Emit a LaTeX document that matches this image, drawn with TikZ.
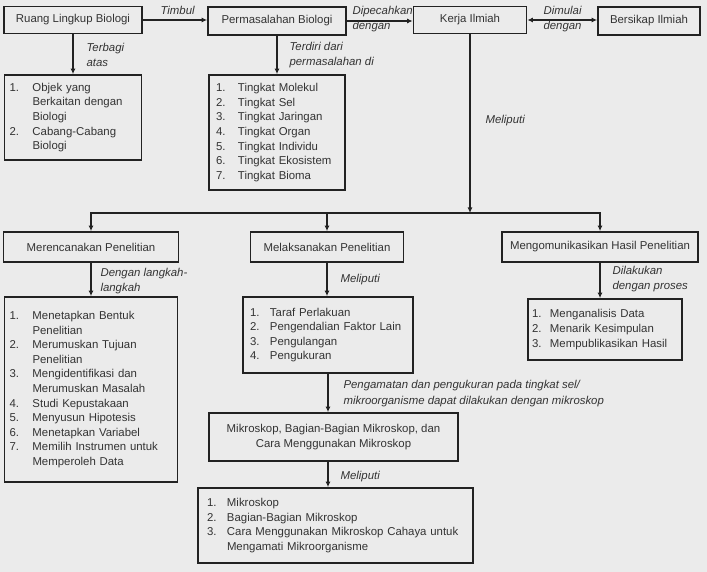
\documentclass[tikz,border=0pt]{standalone}
\usepackage{fontspec}
\setmainfont{Liberation Sans}
\usetikzlibrary{arrows.meta}
\definecolor{paper}{HTML}{EBEBEB}
\definecolor{ink}{HTML}{222222}
\definecolor{subink}{HTML}{333333}

\begin{document}
\begin{tikzpicture}[
    x=1pt, y=-1pt,
    >={Latex[length=5.5pt, width=5pt]},
    arr/.style={->, line width=1.8pt, ink},
    every node/.style={font=\fontsize{11.4}{14.6}\selectfont, text=subink},
    % Plain concept box
    box/.style={rectangle, draw=ink, line width=1.7pt, fill=paper,
                align=center, inner sep=2pt},
    % Numbered list box
    lst/.style={box, align=left, inner ysep=2pt},
    % Italic connector label
    lbl/.style={font=\fontsize{11.4}{15.5}\selectfont\itshape, align=left, anchor=west}
]

% ---------- Background ----------
\fill[paper] (0,0) rectangle (707,572);
\useasboundingbox (0,0) rectangle (707,572);

% ---------- Top row ----------
\node[box, minimum width=138pt, minimum height=27pt] at (73, 20) (ruang) {Ruang Lingkup Biologi};
\node[box, minimum width=138pt, minimum height=28pt] at (277, 21) (masalah) {Permasalahan Biologi};
\node[box, minimum width=113pt, minimum height=27pt] at (470, 20) (kerja) {Kerja Ilmiah};
\node[box, minimum width=102pt, minimum height=28pt] at (649, 21) (sikap) {Bersikap Ilmiah};

\draw[arr] (ruang.east) -- (ruang.east -| masalah.west);
\draw[arr] (masalah.east) -- (masalah.east -| kerja.west);
\draw[arr, <->] (kerja.east) -- (kerja.east -| sikap.west);

\node[lbl] at (157, 10) {Timbul};
\node[lbl] at (349, 19) {Dipecahkan\\dengan};
\node[lbl] at (540, 19) {Dimulai\\dengan};

% ---------- Lists under the top row ----------
\node[lst, minimum width=137pt, minimum height=85pt, inner xsep=5pt, text width=127pt]
    at (73, 117.5) (objek) {%
    \begin{tabular}{@{}p{23pt}@{}l@{}}
    1. & Objek yang\\ & Berkaitan dengan\\ & Biologi\\
    2. & Cabang-Cabang\\ & Biologi
    \end{tabular}};
\node[lst, minimum width=136pt, minimum height=115pt, inner xsep=7pt, text width=122pt]
    at (277, 132.5) (tingkat) {%
    \begin{tabular}{@{}p{22pt}@{}l@{}}
    1. & Tingkat Molekul\\ 2. & Tingkat Sel\\ 3. & Tingkat Jaringan\\
    4. & Tingkat Organ\\ 5. & Tingkat Individu\\ 6. & Tingkat Ekosistem\\
    7. & Tingkat Bioma
    \end{tabular}};

\draw[arr] (ruang) -- (ruang |- objek.north);
\draw[arr] (masalah) -- (masalah |- tingkat.north);
\node[lbl] at (83, 55) {Terbagi\\atas};
\node[lbl] at (286, 55) {Terdiri dari\\permasalahan di};

% ---------- Kerja Ilmiah -> three stages (fan out) ----------
\coordinate (fork) at (470, 213);
\draw[arr] (kerja) -- (fork);
\node[lbl] at (482, 121) {Meliputi};

\node[box, minimum width=175pt, minimum height=30pt] at (91, 247) (rencana) {Merencanakan Penelitian};
\node[box, minimum width=153pt, minimum height=30pt] at (327, 247) (laksana) {Melaksanakan Penelitian};
\node[box, minimum width=196pt, minimum height=30pt] at (600, 247) (komunikasi) {Mengomunikasikan Hasil Penelitian};

\draw[arr] (fork) -| (rencana);
\draw[arr] (fork) -| (laksana);
\draw[arr] (fork) -| (komunikasi);

% ---------- Stage lists ----------
\node[lst, minimum width=173pt, minimum height=185pt, inner xsep=5pt, text width=163pt]
    at (91, 389.5) (langkah) {%
    \begin{tabular}{@{}p{23pt}@{}l@{}}
    1. & Menetapkan Bentuk\\ & Penelitian\\
    2. & Merumuskan Tujuan\\ & Penelitian\\
    3. & Mengidentifikasi dan\\ & Merumuskan Masalah\\
    4. & Studi Kepustakaan\\
    5. & Menyusun Hipotesis\\
    6. & Menetapkan Variabel\\
    7. & Memilih Instrumen untuk\\ & Memperoleh Data
    \end{tabular}};
\node[lst, minimum width=170pt, minimum height=76pt, inner xsep=7pt, text width=156pt]
    at (328, 335) (taraf) {%
    \begin{tabular}{@{}p{20pt}@{}l@{}}
    1. & Taraf Perlakuan\\ 2. & Pengendalian Faktor Lain\\
    3. & Pengulangan\\ 4. & Pengukuran
    \end{tabular}};
\node[lst, minimum width=154pt, minimum height=61pt, inner xsep=4pt, text width=146pt]
    at (605, 329.5) (proses) {%
    \begin{tabular}{@{}p{18pt}@{}l@{}}
    1. & Menganalisis Data\\ 2. & Menarik Kesimpulan\\ 3. & Mempublikasikan Hasil
    \end{tabular}};

\draw[arr] (rencana) -- (rencana |- langkah.north);
\draw[arr] (laksana) -- (laksana |- taraf.north);
\draw[arr] (komunikasi) -- (komunikasi |- proses.north);
\node[lbl] at (97, 281) {Dengan langkah-\\langkah};
\node[lbl] at (337, 280) {Meliputi};
\node[lbl] at (609, 279) {Dilakukan\\dengan proses};

% ---------- Mikroskop ----------
\node[box, minimum width=249pt, minimum height=48pt] at (333.5, 437) (mikro)
    {Mikroskop, Bagian-Bagian Mikroskop, dan\\Cara Menggunakan Mikroskop};
\draw[arr] (taraf) -- (taraf |- mikro.north);
\node[lbl] at (340, 393.5) {Pengamatan dan pengukuran pada tingkat sel/\\mikroorganisme dapat dilakukan dengan mikroskop};

\node[lst, minimum width=275pt, minimum height=75pt, inner xsep=9pt, text width=257pt]
    at (335.5, 525.5) (bagian) {%
    \begin{tabular}{@{}p{20pt}@{}l@{}}
    1. & Mikroskop\\ 2. & Bagian-Bagian Mikroskop\\
    3. & Cara Menggunakan Mikroskop Cahaya untuk\\ & Mengamati Mikroorganisme
    \end{tabular}};
\draw[arr] (mikro.south -| taraf) -- (taraf |- bagian.north);
\node[lbl] at (337, 477) {Meliputi};

\end{tikzpicture}
\end{document}
